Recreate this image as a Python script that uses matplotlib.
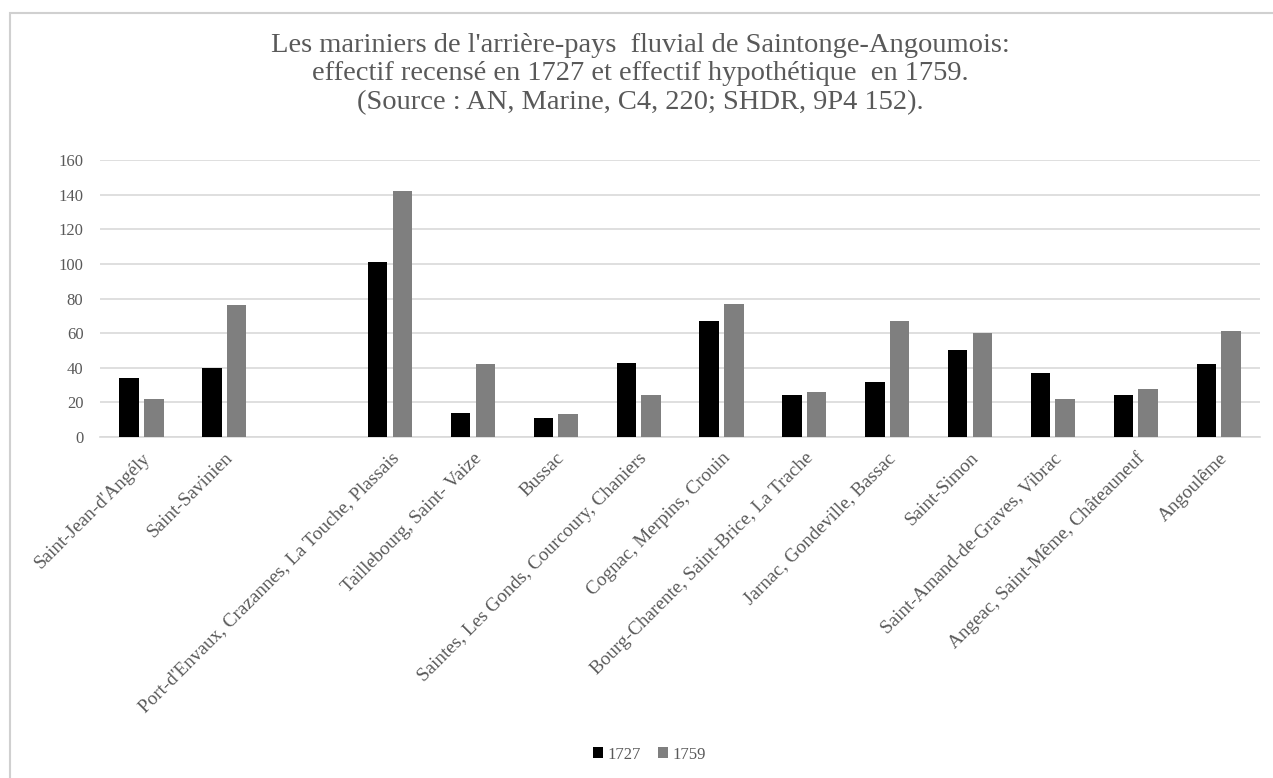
import numpy as np
import matplotlib.pyplot as plt
from matplotlib.patches import Rectangle

plt.rcParams['font.family'] = ['Liberation Serif', 'DejaVu Serif']

# categories (one empty slot between Saint-Savinien and Port-d'Envaux)
categories = [
    "Saint-Jean-d'Angély",
    "Saint-Savinien",
    "",
    "Port-d'Envaux, Crazannes, La Touche, Plassais",
    "Taillebourg, Saint- Vaize",
    "Bussac",
    "Saintes, Les Gonds, Courcoury, Chaniers",
    "Cognac, Merpins, Crouin",
    "Bourg-Charente, Saint-Brice, La Trache",
    "Jarnac, Gondeville, Bassac",
    "Saint-Simon",
    "Saint-Amand-de-Graves, Vibrac",
    "Angeac, Saint-Même, Châteauneuf",
    "Angoulême",
]
vals_1727 = [34, 40, np.nan, 101, 14, 11, 43, 67, 24, 32, 50, 37, 24, 42]
vals_1759 = [22, 76, np.nan, 142, 42, 13, 24, 77, 26, 67, 60, 22, 28, 61]
y_ticks = [0, 20, 40, 60, 80, 100, 120, 140, 160]

text_col = '#595959'
grid_col = '#d9d9d9'

fig = plt.figure(figsize=(12.73, 7.78), dpi=100)
ax = fig.add_axes([0.0786, 0.4383, 0.9112, 0.356])

# outer chart frame (right/bottom edges fall outside the picture)
fig.patches.append(Rectangle((10 / 1273, -0.01), 1.05, 1 - 13 / 778 + 0.01,
                             transform=fig.transFigure, fill=False,
                             edgecolor='#d0d0d0', linewidth=1.5, zorder=0))

x = np.arange(len(categories))
w = 0.235
ax.bar(x - 0.149, vals_1727, width=w, color='#000000', label='1727', zorder=3)
ax.bar(x + 0.149, vals_1759, width=w, color='#7f7f7f', label='1759', zorder=3)

ax.set_xlim(-0.5, len(categories) - 0.5)
ax.set_ylim(0, 160)
ax.set_yticks(y_ticks)
ax.yaxis.grid(True, color=grid_col, linewidth=1.2, zorder=0)
ax.set_axisbelow(True)
for s in ['top', 'right', 'left']:
    ax.spines[s].set_visible(False)
ax.spines['bottom'].set_color(grid_col)
ax.spines['bottom'].set_linewidth(1.2)
ax.tick_params(axis='y', length=0, labelsize=12, labelcolor=text_col, pad=12)
ax.tick_params(axis='x', length=0, labelsize=13.8, labelcolor=text_col, pad=9)
ax.set_xticks(x)
ax.set_xticklabels(categories, rotation=45, ha='right', rotation_mode='anchor')

fig.text(0.503, 0.958,
         "Les mariniers de l'arrière-pays  fluvial de Saintonge-Angoumois:\n"
         "effectif recensé en 1727 et effectif hypothétique  en 1759.\n"
         "(Source : AN, Marine, C4, 220; SHDR, 9P4 152).",
         ha='center', va='top', fontsize=20.5, color=text_col, linespacing=1.2,
         family='Liberation Serif')

fig.legend(loc='center', bbox_to_anchor=(0.51, 0.030), ncol=2, frameon=False,
           fontsize=12, labelcolor=text_col, handlelength=0.6, handleheight=0.6,
           handletextpad=0.3, columnspacing=1.0)

fig.savefig('out.png', dpi=100)
